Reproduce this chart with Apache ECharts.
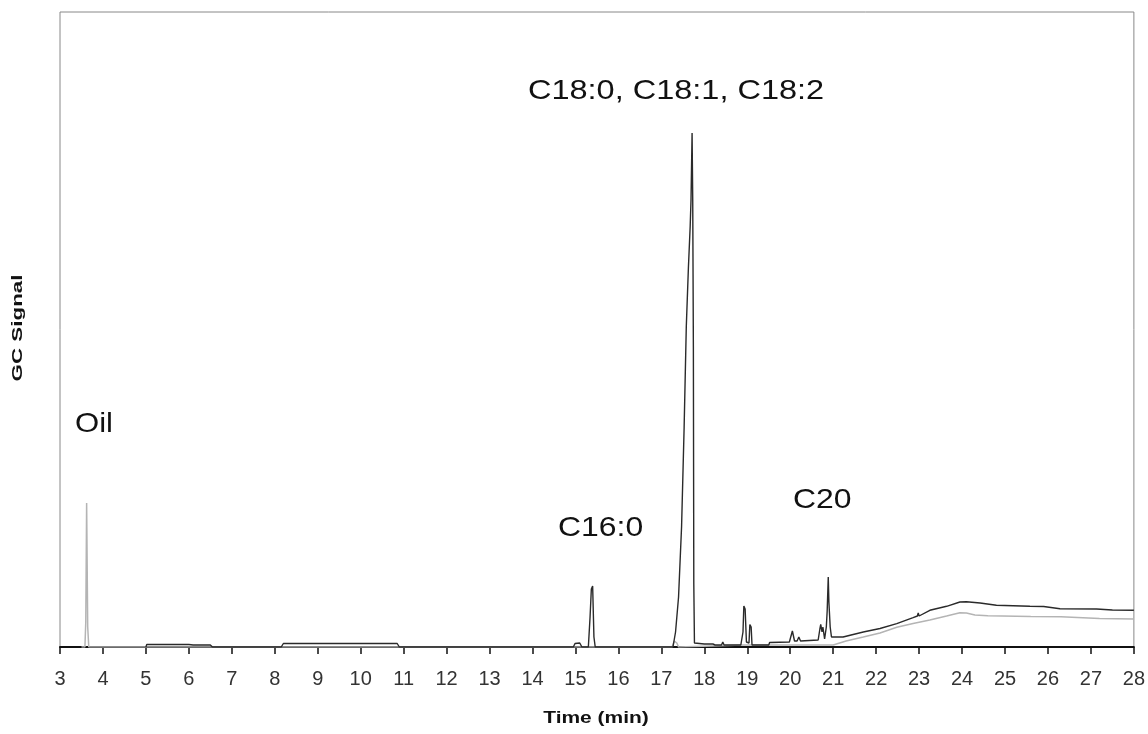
<!DOCTYPE html>
<html lang="en">
    <head>
        <meta charset="UTF-8" />
        <title>GC chromatogram</title>
        <script src="https://cdn.jsdelivr.net/npm/echarts@6/dist/echarts.min.js"></script>
        <style>
            html, body { margin: 0; padding: 0; background: #fff; }
            #chart { width: 1148px; height: 734px; }
        </style>
    </head>
    <body>
        <div id="chart"></div>
        <script>
            // sample run (dark trace)
            var sampleTime = [
                5.0, 5.02, 6.0, 6.1, 6.5, 6.55, 8.15, 8.2, 10.85, 10.9,
                12.9, 12.93, 12.96, 14.95, 14.99, 15.1, 15.15, 15.3, 15.34, 15.37,
                15.39, 15.4, 15.43, 15.46, 16.3, 16.33, 16.36, 17.27, 17.33, 17.4,
                17.47, 17.53, 17.58, 17.63, 17.67, 17.69, 17.715, 17.73, 17.745, 17.755,
                17.77, 18.0, 18.2, 18.25, 18.4, 18.43, 18.46, 18.85, 18.9, 18.92,
                18.95, 18.98, 19.04, 19.06, 19.09, 19.11, 19.5, 19.52, 19.98, 20.05,
                20.1, 20.16, 20.2, 20.24, 20.65, 20.69, 20.71, 20.74, 20.76, 20.8,
                20.84, 20.86, 20.885, 20.9, 20.93, 20.96, 21.0, 21.23, 21.7, 22.09,
                22.48, 22.86, 22.96, 22.98, 23.0, 23.25, 23.64, 23.95, 24.1, 24.42,
                24.8, 25.58, 25.9, 26.28, 27.13, 27.5, 28.0
            ];
            var sampleSignal = [
                0, 2.5, 2.5, 2, 2, 0, 0, 3.5, 3.5, 0,
                0, 2, 0, 0, 3.5, 4, 0, 0, 30, 58,
                56, 61, 10, 0, 0, 2, 0, 0, 15, 50,
                120, 220, 320, 380, 420, 447, 514, 447, 300, 63,
                4, 3, 3, 2, 2, 5, 2, 2, 15, 41,
                38, 5, 4, 22.5, 20, 2, 2, 4.5, 5, 16,
                6, 6, 10, 6, 7, 18, 22.7, 15, 20, 8,
                20, 36, 70, 45, 20, 10, 9, 10, 15, 18.5,
                23.3, 29.3, 31, 34, 31, 36.7, 40.7, 45, 45.3, 44,
                41.7, 40.7, 40.5, 38.3, 38, 37, 36.7
            ];

            // oil / blank run (light trace)
            var blankTime = [
                3.5, 3.58, 3.6, 3.62, 3.645, 3.67, 17.25, 17.3, 17.36, 17.4,
                18.9, 21.0, 21.3, 21.7, 22.09, 22.48, 22.86, 23.25, 23.64, 23.95,
                24.1, 24.3, 24.6, 25.6, 26.3, 27.2, 28.0
            ];
            var blankSignal = [
                0, 0, 25, 144, 20, 0, 0, 6, 4, 0,
                2, 2, 6, 10, 14, 19.7, 23.5, 27, 31, 34.3,
                34, 32, 31.3, 30.5, 30.3, 28.5, 28
            ];

            var xTicks = { min: 3, max: 28, step: 1 };

            function pairs(xs, ys) {
                return xs.map(function (x, i) { return [x, ys[i]]; });
            }

            var chart = echarts.init(document.getElementById('chart'));

            var annoFont = '28px "Liberation Sans", Arial, sans-serif';

            function label(text, x, y, sx) {
                return {
                    type: 'text',
                    x: x,
                    y: y,
                    scaleX: sx,
                    style: {
                        text: text,
                        font: annoFont,
                        fill: '#111',
                        align: 'left',
                        verticalAlign: 'middle'
                    }
                };
            }

            var option = {
                animation: false,
                backgroundColor: '#fff',
                grid: {
                    left: 60,
                    right: 14,
                    top: 12,
                    bottom: 87,
                    show: true,
                    borderColor: '#888',
                    borderWidth: 1
                },
                xAxis: {
                    type: 'value',
                    min: xTicks.min,
                    max: xTicks.max,
                    interval: xTicks.step,
                    axisLine: { show: true, lineStyle: { color: '#111', width: 2 } },
                    axisTick: { show: true, length: 7, lineStyle: { color: '#111', width: 1.5 } },
                    axisLabel: {
                        margin: 22,
                        fontSize: 20,
                        color: '#333',
                        fontFamily: '"Liberation Sans", Arial, sans-serif',
                        showMinLabel: true,
                        showMaxLabel: true
                    },
                    splitLine: { show: false }
                },
                yAxis: {
                    type: 'value',
                    min: 0,
                    max: 635,
                    axisLine: { show: false },
                    axisTick: { show: false },
                    axisLabel: { show: false },
                    splitLine: { show: false }
                },
                series: [
                    {
                        name: 'Oil',
                        type: 'line',
                        data: pairs(blankTime, blankSignal),
                        showSymbol: false,
                        lineStyle: { color: '#b4b4b4', width: 1.5 }
                    },
                    {
                        name: 'Sample',
                        type: 'line',
                        data: pairs(sampleTime, sampleSignal),
                        showSymbol: false,
                        lineStyle: { color: '#2a2a2a', width: 1.4 }
                    }
                ],
                graphic: [
                    label('C18:0, C18:1, C18:2', 528, 91, 1.16),
                    label('C16:0', 558, 528, 1.14),
                    label('C20', 793, 500, 1.14),
                    label('Oil', 75, 424, 1.11),
                    {
                        type: 'text',
                        x: 596,
                        y: 719,
                        scaleX: 1.31,
                        style: {
                            text: 'Time (min)',
                            font: 'bold 16px "Liberation Sans", Arial, sans-serif',
                            fill: '#111',
                            align: 'center',
                            verticalAlign: 'middle'
                        }
                    },
                    {
                        type: 'text',
                        x: 18,
                        y: 328,
                        rotation: Math.PI / 2,
                        scaleX: 1.6,
                        style: {
                            text: 'GC Signal',
                            font: 'bold 14px "Liberation Sans", Arial, sans-serif',
                            fill: '#111',
                            align: 'center',
                            verticalAlign: 'middle'
                        }
                    }
                ]
            };

            chart.setOption(option, true);
        </script>
    </body>
</html>
